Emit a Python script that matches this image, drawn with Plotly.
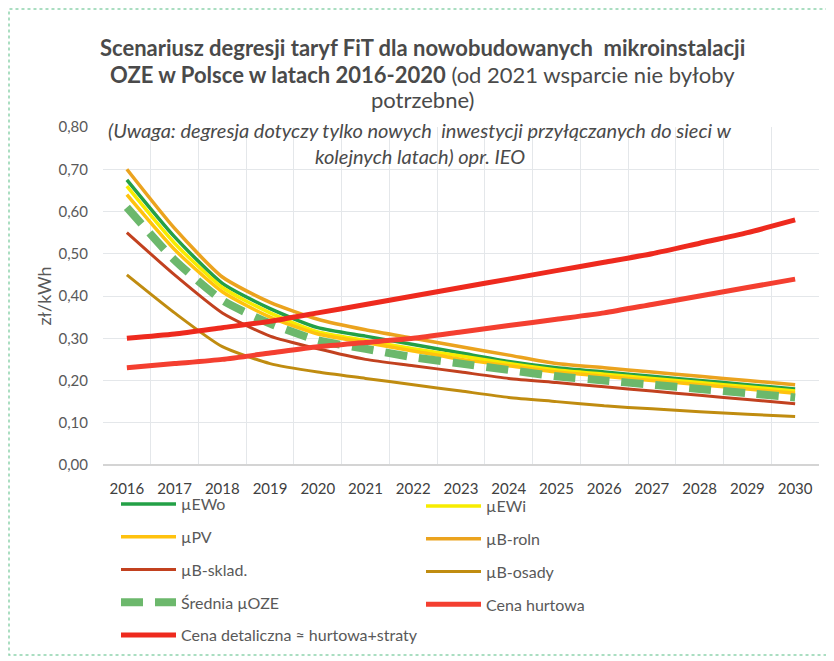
import plotly.graph_objects as go

years = list(range(2016, 2031))

ewo = [0.675, 0.54, 0.43, 0.37, 0.325, 0.305, 0.285, 0.265, 0.245, 0.23, 0.22, 0.21, 0.20, 0.19, 0.18]
ewi = [0.66, 0.525, 0.42, 0.36, 0.315, 0.295, 0.275, 0.258, 0.24, 0.225, 0.215, 0.205, 0.195, 0.185, 0.175]
pv = [0.64, 0.51, 0.41, 0.35, 0.31, 0.29, 0.27, 0.25, 0.235, 0.22, 0.21, 0.20, 0.19, 0.18, 0.17]
b_roln = [0.70, 0.56, 0.445, 0.385, 0.345, 0.32, 0.30, 0.28, 0.26, 0.24, 0.23, 0.22, 0.21, 0.20, 0.19]
b_sklad = [0.55, 0.45, 0.36, 0.305, 0.275, 0.25, 0.235, 0.22, 0.205, 0.195, 0.185, 0.175, 0.165, 0.155, 0.145]
b_osady = [0.45, 0.36, 0.28, 0.24, 0.22, 0.205, 0.19, 0.175, 0.16, 0.15, 0.14, 0.133, 0.126, 0.12, 0.115]
srednia = [0.61, 0.485, 0.39, 0.335, 0.295, 0.275, 0.255, 0.24, 0.225, 0.21, 0.20, 0.19, 0.18, 0.17, 0.16]
hurtowa = [0.23, 0.24, 0.25, 0.265, 0.28, 0.29, 0.30, 0.315, 0.33, 0.345, 0.36, 0.38, 0.40, 0.42, 0.44]
detaliczna = [0.30, 0.31, 0.325, 0.34, 0.36, 0.38, 0.40, 0.42, 0.44, 0.46, 0.48, 0.50, 0.525, 0.55, 0.58]

title_lines = [
    "<b>Scenariusz degresji taryf FiT dla nowobudowanych  mikroinstalacji</b>",
    "<b>OZE w Polsce w latach 2016-2020</b> (od 2021 wsparcie nie byłoby",
    "potrzebne)",
]
note_lines = [
    "<i>(Uwaga: degresja dotyczy tylko nowych  inwestycji przyłączanych do sieci w</i>",
    "<i>kolejnych latach) opr. IEO</i>",
]

FONT = "Lato"
GREY = "#595959"

# name, values, colour, width, dash, legend
series = [
    ("µEWo", ewo, "#23a046", 3.5, "solid", "legend"),
    ("µEWi", ewi, "#f7ec00", 3.5, "solid", "legend2"),
    ("µPV", pv, "#ffc20e", 3.5, "solid", "legend"),
    ("µB-roln", b_roln, "#eba31e", 3.5, "solid", "legend2"),
    ("µB-sklad.", b_sklad, "#c2411f", 3, "solid", "legend"),
    ("µB-osady", b_osady, "#c08c10", 3, "solid", "legend2"),
    ("Średnia µOZE", srednia, "#6cb86c", 8, "22px,12px", "legend"),
    ("Cena hurtowa", hurtowa, "#f43f30", 5, "solid", "legend2"),
    ("Cena detaliczna ≈ hurtowa+straty", detaliczna, "#ee2a1e", 5, "solid", "legend"),
]

fig = go.Figure()
for name, vals, color, width, dash, leg in series:
    fig.add_trace(go.Scatter(x=years, y=vals, name=name, mode="lines",
                             line=dict(color=color, width=width, dash=dash, shape="spline", smoothing=0.6),
                             legend=leg, legendgroup=name))

legend_style = dict(orientation="v", font=dict(family=FONT, size=16, color=GREY),
                    bgcolor="rgba(0,0,0,0)", tracegroupgap=9, itemwidth=55,
                    yanchor="top", xanchor="left", traceorder="grouped")

# page has an 8px body margin, so the figure is 826x653 and the
# plot area spans x 95..811, y 119..457 px of the figure
PW, PH = 716, 338

fig.update_layout(
    width=826, height=653,
    margin=dict(l=95, r=15, t=119, b=196, autoexpand=False),
    paper_bgcolor="white", plot_bgcolor="white",
    separators=", ",
    font=dict(family=FONT, color=GREY),
    legend=dict(x=13 / PW, y=-22 / PH, **legend_style),
    legend2=dict(x=318 / PW, y=-24 / PH, **legend_style),
    xaxis=dict(range=[2015.5, 2030.5], tickvals=years, showgrid=False,
               ticks="", ticklabelstandoff=13, tickfont=dict(family=FONT, size=15, color="#404040"),
               minor=dict(tick0=2015.5, dtick=1, showgrid=True, gridcolor="#e4e7ea", gridwidth=1),
               showline=False, zeroline=False),
    yaxis=dict(range=[0, 0.8], dtick=0.1, tickformat=".2f", showgrid=True,
               gridcolor="#e4e7ea", gridwidth=1, zeroline=True, zerolinecolor="#d4d4d4",
               ticks="", ticklabelstandoff=14, tickfont=dict(family=FONT, size=15, color=GREY),
               title=dict(text="zł/kWh", font=dict(family=FONT, size=18, color=GREY), standoff=2)),
)

# title lines, centres at page y 47, 74, 100
for text, ypx in zip(title_lines, [39, 66, 92]):
    fig.add_annotation(text=text, x=(414 - 95) / PW, y=1 + (119 - ypx) / PH,
                       xref="paper", yref="paper", yanchor="middle", showarrow=False,
                       font=dict(family=FONT, size=22, color="#4a4a4a"))

# note lines inside the top of the plot area
for text, ypx in zip(note_lines, [122, 148]):
    fig.add_annotation(text=text, x=(412 - 95) / PW, y=1 - (ypx - 119) / PH,
                       xref="paper", yref="paper", yanchor="middle", showarrow=False,
                       font=dict(family=FONT, size=20, color="#4a4a4a"))

# scanned frame: left, top and bottom edges
fig.add_shape(type="path", xref="paper", yref="paper",
              path=(f"M {1.03} {1 + 118 / PH} L {-94 / PW} {1 + 118 / PH} "
                    f"L {-94 / PW} {-190 / PH} L {1.03} {-190 / PH}"),
              line=dict(color="#8fd3ad", width=1.5, dash="dot"))

fig.write_html("out.html")
